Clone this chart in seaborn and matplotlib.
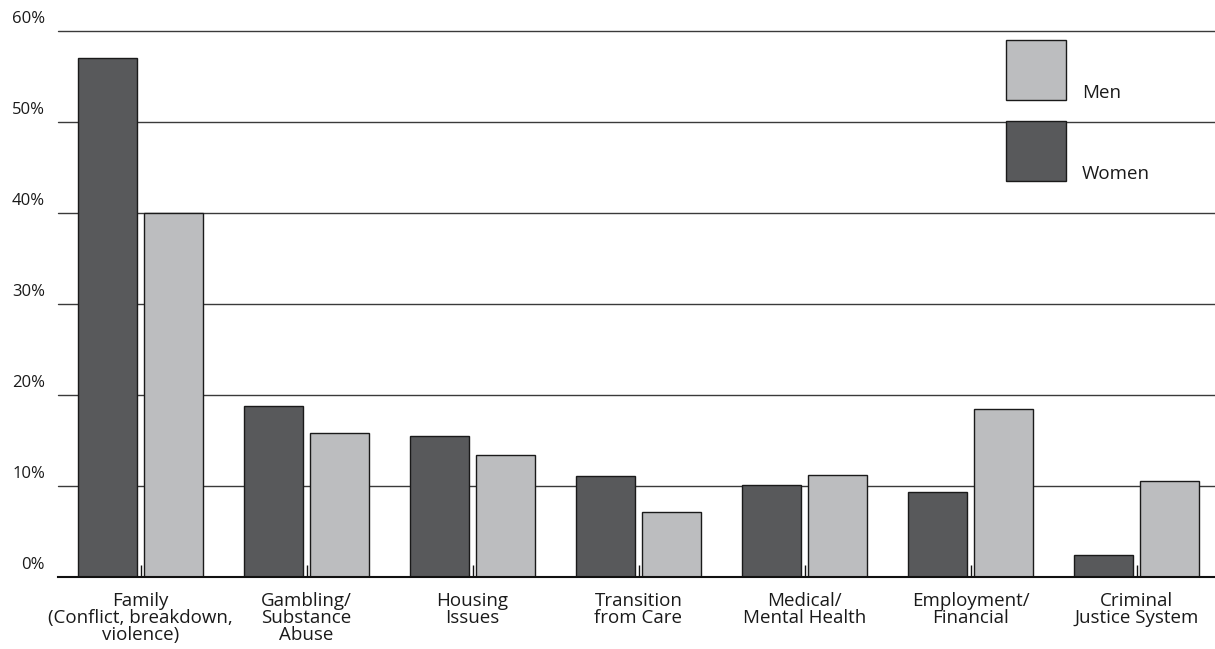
import matplotlib
matplotlib.use("Agg")
import matplotlib.pyplot as plt
import matplotlib.transforms as mtransforms
from matplotlib.patches import Rectangle
import pandas as pd
import seaborn as sns

categories = [
    "Family\n(Conflict, breakdown,\nviolence)",
    "Gambling/\nSubstance\nAbuse",
    "Housing\nIssues",
    "Transition\nfrom Care",
    "Medical/\nMental Health",
    "Employment/\nFinancial",
    "Criminal\nJustice System",
]
women = [57.0, 18.8, 15.5, 11.1, 10.1, 9.3, 2.4]
men = [40.0, 15.8, 13.4, 7.1, 11.2, 18.5, 10.5]
ytick_values = [0, 10, 20, 30, 40, 50, 60]
ytick_labels = ["0%", "10%", "20%", "30%", "40%", "50%", "60%"]

women_color = "#58595b"
men_color = "#bcbdbf"

df = pd.DataFrame({
    "category": categories * 2,
    "group": ["Women"] * len(categories) + ["Men"] * len(categories),
    "value": women + men,
})

sns.set_theme(style="white")
plt.rcParams["font.family"] = ["Open Sans", "DejaVu Sans"]

fig = plt.figure(figsize=(12.15, 6.49), dpi=100)
ax = fig.add_axes([57.5 / 1215, (649 - 577) / 649, 1162 / 1215, 546 / 649])

sns.barplot(
    data=df, x="category", y="value", hue="group",
    hue_order=["Women", "Men"],
    palette={"Women": women_color, "Men": men_color},
    width=0.795, gap=0.105, edgecolor="#1a1a1a", linewidth=1.0,
    ax=ax, legend=False, zorder=3,
)

ax.set_xlim(-0.5, 6.5)
ax.set_ylim(0, 60)
ax.set_xlabel("")
ax.set_ylabel("")

# horizontal rules
for v in ytick_values[1:]:
    ax.axhline(v, color="#3a3a3a", linewidth=1.0, zorder=1, clip_on=False)

for side in ["left", "right", "top"]:
    ax.spines[side].set_visible(False)
ax.spines["bottom"].set_color("#111111")
ax.spines["bottom"].set_linewidth(1.5)
ax.spines["bottom"].set_zorder(4)

ax.set_yticks(ytick_values)
ax.set_yticklabels(ytick_labels, fontsize=12, color="#1a1a1a")
ax.tick_params(axis="y", left=False, length=0, pad=9)
offset = mtransforms.ScaledTranslation(0, 10 / 72, fig.dpi_scale_trans)
for lbl in ax.get_yticklabels():
    lbl.set_transform(lbl.get_transform() + offset)

ax.set_xticks(range(len(categories)))
ax.set_xticklabels(categories, fontsize=13.5, color="#1a1a1a", linespacing=0.93)
ax.tick_params(axis="x", bottom=True, direction="in", length=8.5, width=1.0,
               color="#111111", pad=11)
ax.xaxis.set_zorder(5)

# legend
tr = ax.transAxes
bx0, bw = 0.8163, 0.0516
for y0, col, lab in [(0.8736, men_color, "Men"), (0.7253, women_color, "Women")]:
    ax.add_patch(Rectangle((bx0, y0), bw, 0.110, transform=tr, facecolor=col,
                           edgecolor="#1a1a1a", linewidth=1.0, zorder=6, clip_on=False))
    ax.text(0.8817, y0 + 0.004, lab, transform=tr, fontsize=13.5, color="#1a1a1a",
            ha="left", va="baseline", zorder=6)

fig.savefig("out.png", dpi=100)
